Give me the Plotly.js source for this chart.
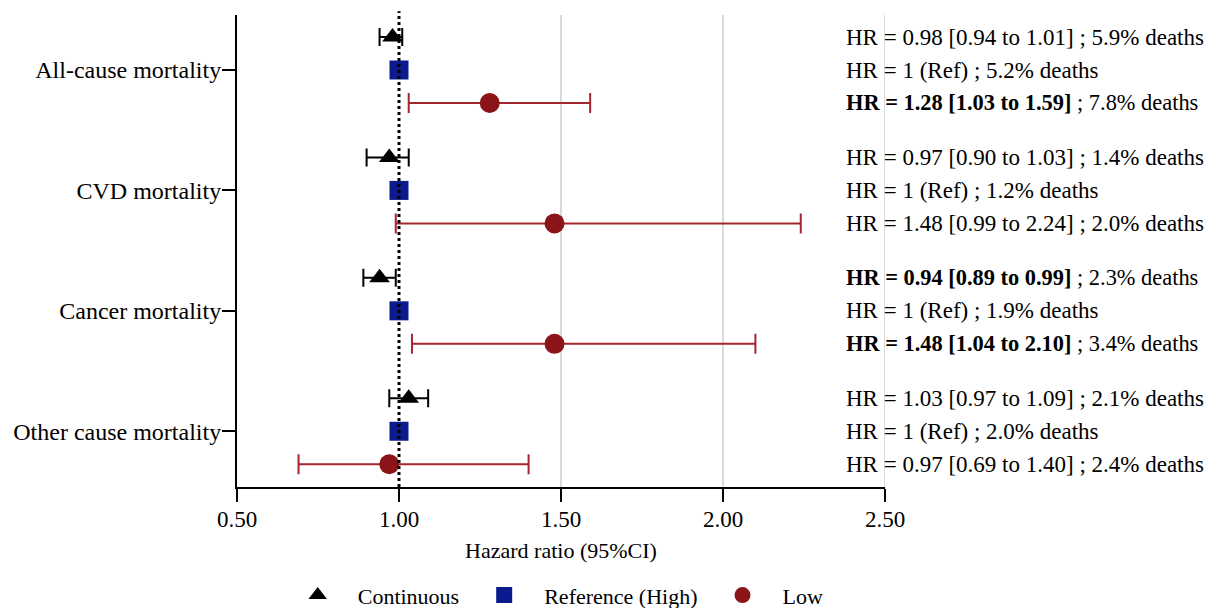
<!DOCTYPE html>
<html>
<head>
<meta charset="utf-8">
<script src="https://cdn.plot.ly/plotly-3.0.1.min.js"></script>
<style>html,body{margin:0;padding:0;background:#fff;}#chart{width:1208px;height:608px;}</style>
</head>
<body>
<div id="chart"></div>
<script>
// ---- Data ----
const categories = ['All-cause mortality', 'CVD mortality', 'Cancer mortality', 'Other cause mortality'];
const seriesNames = ['Continuous', 'Reference (High)', 'Low'];

const contHR = [0.98, 0.97, 0.94, 1.03];
const contLo = [0.94, 0.90, 0.89, 0.97];
const contHi = [1.01, 1.03, 0.99, 1.09];
const contDeaths = ['5.9%', '1.4%', '2.3%', '2.1%'];

const refHR = [1, 1, 1, 1];
const refDeaths = ['5.2%', '1.2%', '1.9%', '2.0%'];

const lowHR = [1.28, 1.48, 1.48, 0.97];
const lowLo = [1.03, 0.99, 1.04, 0.69];
const lowHi = [1.59, 2.24, 2.10, 1.40];
const lowDeaths = ['7.8%', '2.0%', '3.4%', '2.4%'];

const xTicks = [0.5, 1.0, 1.5, 2.0, 2.5];

// ---- Layout helpers ----
const FONT = 'Liberation Serif, Times New Roman, serif';
const groupGap = 3.65;               // row units between group centres
const groupPos = categories.map((_, i) => i * groupGap);
const rowY = (i, off) => groupPos[i] + off;
const contY = categories.map((_, i) => rowY(i, -1));
const refY = categories.map((_, i) => rowY(i, 0));
const lowY = categories.map((_, i) => rowY(i, 1));

const f2 = v => v.toFixed(2);
const isSig = (lo, hi) => lo !== undefined && (lo > 1 || hi < 1);
function label(hr, lo, hi, d) {
  if (lo === undefined) return 'HR = ' + hr + ' (Ref) ; ' + d + ' deaths';
  const core = 'HR = ' + f2(hr) + ' [' + f2(lo) + ' to ' + f2(hi) + ']';
  return (isSig(lo, hi) ? '<b>' + core + '</b>' : core) + ' ; ' + d + ' deaths';
}

const traces = [
  {
    name: seriesNames[0], type: 'scatter', mode: 'markers',
    x: contHR, y: contY,
    marker: {symbol: 'triangle-up', size: 18, color: '#000000'},
    error_x: {type: 'data', symmetric: false,
      array: contHR.map((v, i) => contHi[i] - v),
      arrayminus: contHR.map((v, i) => v - contLo[i]),
      color: '#000000', thickness: 2, width: 9},
    cliponaxis: false
  },
  {
    name: seriesNames[1], type: 'scatter', mode: 'markers',
    x: refHR, y: refY,
    marker: {symbol: 'square', size: 19, color: '#0b1a8c'},
    cliponaxis: false
  },
  {
    name: seriesNames[2], type: 'scatter', mode: 'markers',
    x: lowHR, y: lowY,
    marker: {symbol: 'circle', size: 20, color: '#8b1418'},
    error_x: {type: 'data', symmetric: false,
      array: lowHR.map((v, i) => lowHi[i] - v),
      arrayminus: lowHR.map((v, i) => v - lowLo[i]),
      color: '#a3262b', thickness: 2, width: 10},
    cliponaxis: false
  }
];

const textX = (845 - 237) / 648;   // paper fraction where the HR text starts
const annotations = [];
categories.forEach((c, i) => {
  const rows = [
    [contY[i], contHR[i], contLo[i], contHi[i], contDeaths[i]],
    [refY[i], refHR[i], undefined, undefined, refDeaths[i]],
    [lowY[i], lowHR[i], lowLo[i], lowHi[i], lowDeaths[i]]
  ];
  rows.forEach(r => annotations.push({
    x: textX, y: r[0], xref: 'paper', yref: 'y', xanchor: 'left', yanchor: 'middle',
    align: 'left', showarrow: false, borderpad: 0,
    text: label(r[1], r[2], r[3], r[4]),
    font: {family: FONT, size: isSig(r[2], r[3]) ? 22.4 : 23, color: '#000'}
  }));
});

const shapes = [1.5, 2.0, 2.5].map(v => ({
  type: 'line', xref: 'x', yref: 'paper', x0: v, x1: v, y0: 0, y1: 1,
  line: {color: '#b5b5b5', width: 1}, layer: 'below'
}));
shapes.push({type: 'line', xref: 'x', yref: 'paper', x0: 1, x1: 1, y0: 0, y1: 1.008,
  line: {color: '#000', width: 3, dash: 'dot'}, layer: 'above'});

const layout = {
  width: 1208, height: 608,
  margin: {l: 237, r: 323, t: 15, b: 121, autoexpand: false},
  paper_bgcolor: '#fff', plot_bgcolor: '#fff',
  font: {family: FONT, size: 22, color: '#000'},
  showlegend: true,
  legend: {orientation: 'h', xref: 'paper', x: 0.488, xanchor: 'center',
    yref: 'container', y: 0.021, yanchor: 'middle',
    font: {family: FONT, size: 22, color: '#000'}, itemwidth: 70, traceorder: 'normal'},
  xaxis: {
    range: [0.5, 2.5], tickvals: xTicks, ticktext: xTicks.map(f2),
    showgrid: false, zeroline: false, showline: true, linecolor: '#000', linewidth: 2,
    ticks: 'outside', ticklen: 13, tickwidth: 2, tickcolor: '#000',
    ticklabelstandoff: -3,
    tickfont: {family: FONT, size: 23, color: '#000'},
    title: {text: 'Hazard ratio (95%CI)', font: {family: FONT, size: 22, color: '#000'}, standoff: 12}
  },
  yaxis: {
    range: [12.64, -1.667], tickvals: groupPos, ticktext: categories,
    showgrid: false, zeroline: false, showline: true, linecolor: '#000', linewidth: 2,
    ticks: 'outside', ticklen: 13, tickwidth: 2, tickcolor: '#000',
    ticklabelstandoff: -4,
    tickfont: {family: FONT, size: 24, color: '#000'}
  },
  annotations: annotations,
  shapes: shapes
};

function draw() {
  Plotly.newPlot('chart', traces, layout, {displayModeBar: false, staticPlot: true});
}
if (document.fonts && document.fonts.load) {
  Promise.all([
    document.fonts.load('23px "Liberation Serif"'),
    document.fonts.load('bold 23px "Liberation Serif"')
  ]).then(draw, draw);
} else {
  draw();
}
</script>
</body>
</html>
